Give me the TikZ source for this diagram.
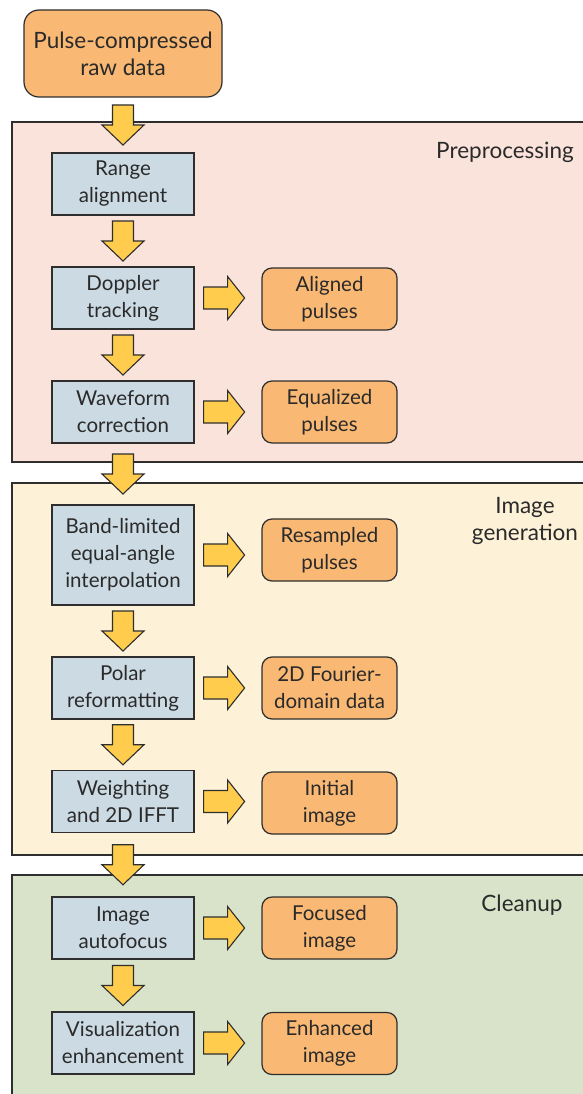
\documentclass[tikz,border=0pt]{standalone}
\usepackage{fontspec}
\setmainfont{Lato}
\usetikzlibrary{calc}
\definecolor{txt}{HTML}{2A2A2A}
\definecolor{edge}{HTML}{2E2E2E}
\definecolor{bluef}{HTML}{CCDAE3}
\definecolor{orangef}{HTML}{F9B873}
\definecolor{arrf}{HTML}{FFCC4D}
\definecolor{pref}{HTML}{FAE3DA}
\definecolor{genf}{HTML}{FDF2D8}
\definecolor{cleanf}{HTML}{D8E3C9}
\tikzset{
  panel/.style={draw=edge, line width=1.2pt},
  stepbox/.style={draw=edge, line width=1.2pt, fill=bluef, minimum width=142pt, minimum height=62pt, align=center, inner sep=1pt, text=txt, font=\fontsize{20.5}{27}\selectfont},
  outbox/.style={draw=edge, line width=1.2pt, fill=orangef, rounded corners=10pt, minimum width=135pt, minimum height=62pt, align=center, inner sep=1pt, text=txt, font=\fontsize{20.5}{27}\selectfont},
  plabel/.style={align=center, text=txt, font=\fontsize{22.5}{27}\selectfont},
  arr/.style={draw=edge, line width=1.1pt, fill=arrf, line join=miter}
}
\newcommand{\downarr}[2]{%
  \path ($(#1.south)!0.5!(#2.north)$) coordinate (m);
  \draw[arr] ([shift={(-10.5,-20)}]m) -- ([shift={(10.5,-20)}]m) -- ([shift={(10.5,0)}]m) -- ([shift={(21,0)}]m) -- ([shift={(0,20)}]m) -- ([shift={(-21,0)}]m) -- ([shift={(-10.5,0)}]m) -- cycle;}
\newcommand{\rightarr}[2]{%
  \path (#1.east) coordinate (m);
  \draw[arr] ([shift={(9,-11)}]m) -- ([shift={(33,-11)}]m) -- ([shift={(33,-21.5)}]m) -- ([shift={(50,0)}]m) -- ([shift={(33,21.5)}]m) -- ([shift={(33,11)}]m) -- ([shift={(9,11)}]m) -- cycle;}
\begin{document}
\begin{tikzpicture}[x=1pt,y=-1pt]
\useasboundingbox (0,0) rectangle (583,1094);
\begin{scope}
\clip (0,0) rectangle (583,1094);
\draw[panel, fill=pref] (12,122) rectangle (600,462);
\draw[panel, fill=genf] (12,483) rectangle (600,855);
\draw[panel, fill=cleanf] (12,875) rectangle (600,1110);
\end{scope}
\node[plabel] (lpre) at (505,152) {Preprocessing};
\node[plabel] (lgen) at (525,521) {Image\\generation};
\node[plabel] (lcln) at (522,905) {Cleanup};

\node[outbox, minimum width=198pt, minimum height=87pt, rounded corners=15pt, font=\fontsize{22.5}{27}\selectfont] (raw) at (123,53.5) {Pulse-compressed\\raw data};

\node[stepbox] (s1) at (123,184) {Range\\alignment};
\node[stepbox] (s2) at (123,298) {Doppler\\tracking};
\node[stepbox] (s3) at (123,412) {Waveform\\correction};
\node[stepbox, minimum height=100pt] (s4) at (123,555) {Band-limited\\equal-angle\\interpolation};
\node[stepbox] (s5) at (123,688) {Polar\\reformatting};
\node[stepbox] (s6) at (123,801.5) {Weighting\\and 2D IFFT};
\node[stepbox] (s7) at (123,928) {Image\\autofocus};
\node[stepbox] (s8) at (123,1043) {Visualization\\enhancement};

\node[outbox] (o2) at (329.5,299) {Aligned\\pulses};
\node[outbox] (o3) at (329.5,412) {Equalized\\pulses};
\node[outbox] (o4) at (329.5,550) {Resampled\\pulses};
\node[outbox] (o5) at (329.5,688) {2D Fourier-\\domain data};
\node[outbox] (o6) at (329.5,803) {Initial\\image};
\node[outbox] (o7) at (329.5,928) {Focused\\image};
\node[outbox] (o8) at (329.5,1043.5) {Enhanced\\image};

\downarr{raw}{s1}
\downarr{s1}{s2}
\downarr{s2}{s3}
\downarr{s3}{s4}
\downarr{s4}{s5}
\downarr{s5}{s6}
\downarr{s6}{s7}
\downarr{s7}{s8}

\rightarr{s2}{o2}
\rightarr{s3}{o3}
\rightarr{s4}{o4}
\rightarr{s5}{o5}
\rightarr{s6}{o6}
\rightarr{s7}{o7}
\rightarr{s8}{o8}
\end{tikzpicture}
\end{document}
